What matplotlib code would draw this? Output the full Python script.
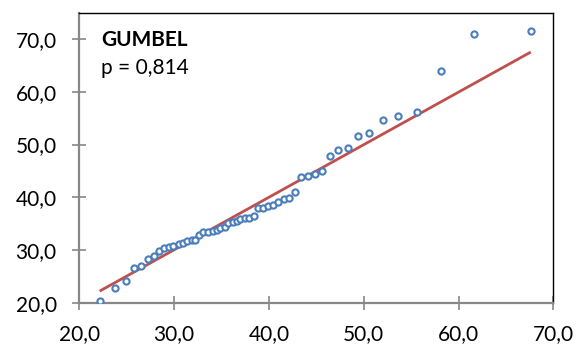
import matplotlib
matplotlib.use("Agg")
import matplotlib.pyplot as plt
from matplotlib.ticker import FuncFormatter

x_vals = [22.18, 23.77, 24.93, 25.77, 26.54, 27.25, 27.85, 28.41, 28.96, 29.48,
          29.92, 30.49, 30.94, 31.39, 31.86, 32.24, 32.63, 33.08, 33.54, 34.07,
          34.49, 34.89, 35.32, 35.72, 36.18, 36.60, 37.00, 37.48, 37.93, 38.38,
          38.88, 39.40, 39.91, 40.43, 40.99, 41.54, 42.14, 42.78, 43.41, 44.15,
          44.84, 45.60, 46.48, 47.34, 48.29, 49.40, 50.59, 52.00, 53.65, 55.62,
          58.12, 61.67, 67.62]
y_vals = [20.38, 22.73, 24.12, 26.64, 27.02, 28.24, 28.86, 29.81, 30.38, 30.57,
          30.71, 31.20, 31.39, 31.71, 31.90, 31.85, 32.85, 33.36, 33.48, 33.67,
          33.86, 34.09, 34.41, 35.07, 35.26, 35.57, 35.79, 36.02, 36.02, 36.50,
          37.92, 38.01, 38.26, 38.51, 39.17, 39.65, 39.91, 41.01, 43.90, 44.01,
          44.39, 44.94, 47.81, 48.99, 49.27, 51.59, 52.27, 54.74, 55.38, 56.26,
          64.04, 70.95, 71.58]
line_x = [22.15, 67.62]
line_y = [22.2, 67.55]
x_ticks = [20, 30, 40, 50, 60, 70]
y_ticks = [20, 30, 40, 50, 60, 70]
title_text = "GUMBEL"
p_text = "p = 0,814"

plt.rcParams['font.family'] = ['Lato', 'DejaVu Sans']

fig = plt.figure(figsize=(5.77, 3.45), dpi=100)
ax = fig.add_axes([0.1374, 0.1226, 0.959 - 0.1374, 0.9614 - 0.1226])

ax.plot(line_x, line_y, color='#C0504D', lw=2.0, zorder=2, solid_capstyle='butt')
ax.scatter(x_vals, y_vals, s=20, facecolors='white', edgecolors='#4A7EBB',
           linewidths=1.5, zorder=3)

ax.set_xlim(20, 70)
ax.set_ylim(20, 74.9)
ax.set_xticks(x_ticks)
ax.set_yticks(y_ticks)
fmt = FuncFormatter(lambda v, pos: f"{v:.1f}".replace('.', ','))
ax.xaxis.set_major_formatter(fmt)
ax.yaxis.set_major_formatter(fmt)

gray = '#878787'
for side in ['left', 'bottom']:
    ax.spines[side].set_color(gray)
    ax.spines[side].set_linewidth(1.6)
for side in ['top', 'right']:
    ax.spines[side].set_color('black')
    ax.spines[side].set_linewidth(1.0)

ax.tick_params(axis='both', direction='inout', length=10.5, width=1.2,
               color=gray, labelsize=15, labelcolor='black')
ax.tick_params(axis='y', pad=11)
ax.tick_params(axis='x', pad=10)

ax.text(0.046, 0.908, title_text, transform=ax.transAxes, fontsize=15,
        fontweight='bold', va='center', ha='left')
ax.text(0.046, 0.812, p_text, transform=ax.transAxes, fontsize=15,
        va='center', ha='left')

fig.savefig("out.png", dpi=100)
